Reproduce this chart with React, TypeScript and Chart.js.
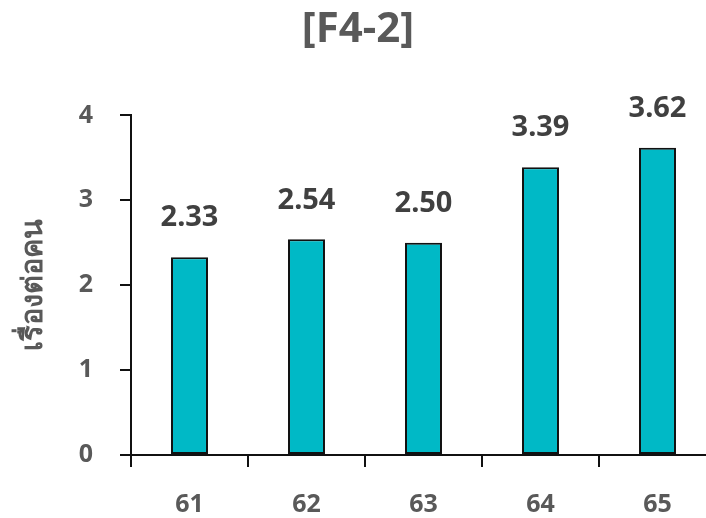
import React, { useEffect, useRef } from "react";
import { Chart, registerables } from "chart.js";

Chart.register(...registerables);

const categories = ["61", "62", "63", "64", "65"];
const values = [2.33, 2.54, 2.5, 3.39, 3.62];
const yTicks = [0, 1, 2, 3, 4];
const titleText = "[F4-2]";
const yTitle = "เรื่องต่อคน";

const FONT = "'Noto Sans', 'DejaVu Sans', sans-serif";

const valueLabels = {
  id: "valueLabels",
  afterDatasetsDraw(chart: any) {
    const ctx = chart.ctx;
    const meta = chart.getDatasetMeta(0);
    ctx.save();
    ctx.font = `bold 29px ${FONT}`;
    ctx.fillStyle = "#404040";
    ctx.textAlign = "center";
    ctx.textBaseline = "middle";
    meta.data.forEach((el: any, i: number) => {
      ctx.fillText(values[i].toFixed(2), el.x, el.y - 39);
    });
    ctx.restore();
  },
};

export default function App() {
  const ref = useRef<HTMLCanvasElement | null>(null);
  useEffect(() => {
    if (!ref.current) return;
    const chart = new Chart(ref.current, {
      type: "bar",
      data: {
        labels: categories,
        datasets: [
          {
            data: values,
            backgroundColor: "#00B9C6",
            borderColor: "#111111",
            borderWidth: 2,
            borderSkipped: false,
            barPercentage: 0.316,
            categoryPercentage: 1,
          },
        ],
      },
      options: {
        animation: false,
        responsive: false,
        layout: { padding: { left: 0, right: 4, top: 0, bottom: 0 } },
        plugins: {
          legend: { display: false },
          tooltip: { enabled: false },
          title: {
            display: true,
            text: titleText,
            color: "#595959",
            font: { family: FONT, size: 42, weight: "bold" },
            padding: { top: 5, bottom: 60 },
          },
        },
        scales: {
          x: {
            grid: {
              display: true,
              drawOnChartArea: false,
              drawTicks: true,
              tickLength: 12,
              color: "#111111",
              lineWidth: 2,
              offset: true,
            },
            border: { display: true, color: "#111111", width: 2 },
            ticks: {
              color: "#595959",
              font: { family: FONT, size: 25, weight: "bold" },
              padding: 23,
            },
            afterFit: (scale: any) => {
              scale.height = 63;
            },
          },
          y: {
            min: 0,
            max: 4,
            afterBuildTicks: (scale: any) => {
              scale.ticks = yTicks.map((v) => ({ value: v }));
            },
            grid: {
              display: true,
              drawOnChartArea: false,
              drawTicks: true,
              tickLength: 11,
              color: "#111111",
              lineWidth: 2,
            },
            border: { display: true, color: "#111111", width: 2 },
            ticks: {
              color: "#595959",
              font: { family: FONT, size: 25, weight: "bold" },
              padding: 27,
            },
            title: {
              display: true,
              text: yTitle,
              color: "#595959",
              font: { family: FONT, size: 29, weight: "bold" },
              padding: { top: 16, bottom: 0 },
            },
            afterFit: (scale: any) => {
              scale.width = 131;
            },
          },
        },
      },
      plugins: [valueLabels],
    });
    return () => chart.destroy();
  }, []);
  return (
    <div
      style={{
        position: "fixed",
        left: 0,
        top: 0,
        width: 706,
        height: 518,
        overflow: "hidden",
        background: "#ffffff",
      }}
    >
      <canvas ref={ref} width={720} height={518} style={{ display: "block" }} />
    </div>
  );
}
